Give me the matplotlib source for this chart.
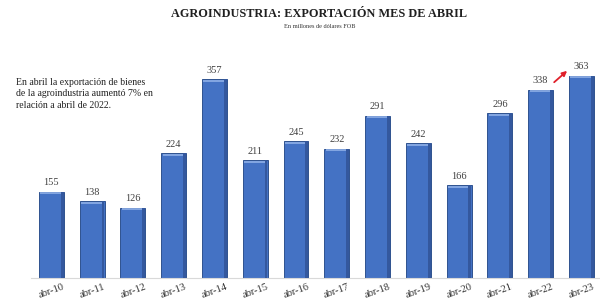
import matplotlib.pyplot as plt

categories = ["abr-10", "abr-11", "abr-12", "abr-13", "abr-14", "abr-15", "abr-16",
              "abr-17", "abr-18", "abr-19", "abr-20", "abr-21", "abr-22", "abr-23"]
values = [155, 138, 126, 224, 357, 211, 245, 232, 291, 242, 166, 296, 338, 363]

note_lines = ["En abril la exportación de bienes",
              "de la agroindustria aumentó 7% en",
              "relación a abril de 2022."]

plt.rcParams['font.family'] = ['Liberation Serif', 'DejaVu Serif']

fig = plt.figure(figsize=(6, 3.06), dpi=100)
ax = fig.add_axes([31 / 600, 28 / 306, 570 / 600, 248 / 306])

x = list(range(len(values)))
ax.bar(x, values, width=0.61, color='#4472C4', edgecolor='#2F528F', linewidth=0.7, zorder=2)
# subtle shading: darker right edge, lighter top rim
ax.bar([i + 0.265 for i in x], values, width=0.07, color='#34589E', linewidth=0, zorder=3)
ax.hlines([v - 3 for v in values], [i - 0.27 for i in x], [i + 0.23 for i in x],
          color='#8FB0E8', lw=1.2, zorder=4)

for i, v in enumerate(values):
    ax.text(i, v + 8, str(v), ha='center', va='bottom', fontsize=7.5, color='#404040')

ax.set_xlim(-0.5, 13.48)
ax.set_ylim(0, 445)
ax.set_xticks(x)
ax.set_xticklabels(categories, rotation=20, fontsize=7.5, color='#303030')
ax.tick_params(axis='x', length=0, pad=3)
ax.set_yticks([])
for s in ['top', 'right', 'left']:
    ax.spines[s].set_visible(False)
ax.spines['bottom'].set_color('#d9d9d9')

ax.annotate('', xy=(12.7, 375), xytext=(12.28, 348),
            arrowprops=dict(arrowstyle='-|>', color='#e0202a', lw=1.3, mutation_scale=7))

fig.text(0.532, 0.955, 'AGROINDUSTRIA: EXPORTACIÓN MES DE ABRIL', ha='center', va='center',
         fontsize=8.8, fontweight='bold', color='#202020')
fig.text(0.532, 0.915, 'En millones de dólares FOB', ha='center', va='center',
         fontsize=4.5, color='#303030')

for k, line in enumerate(note_lines):
    fig.text(16 / 600, 1 - (83 + 11 * k) / 306, line, ha='left', va='center',
             fontsize=7, color='#202020')

fig.savefig('out.png', dpi=100)
